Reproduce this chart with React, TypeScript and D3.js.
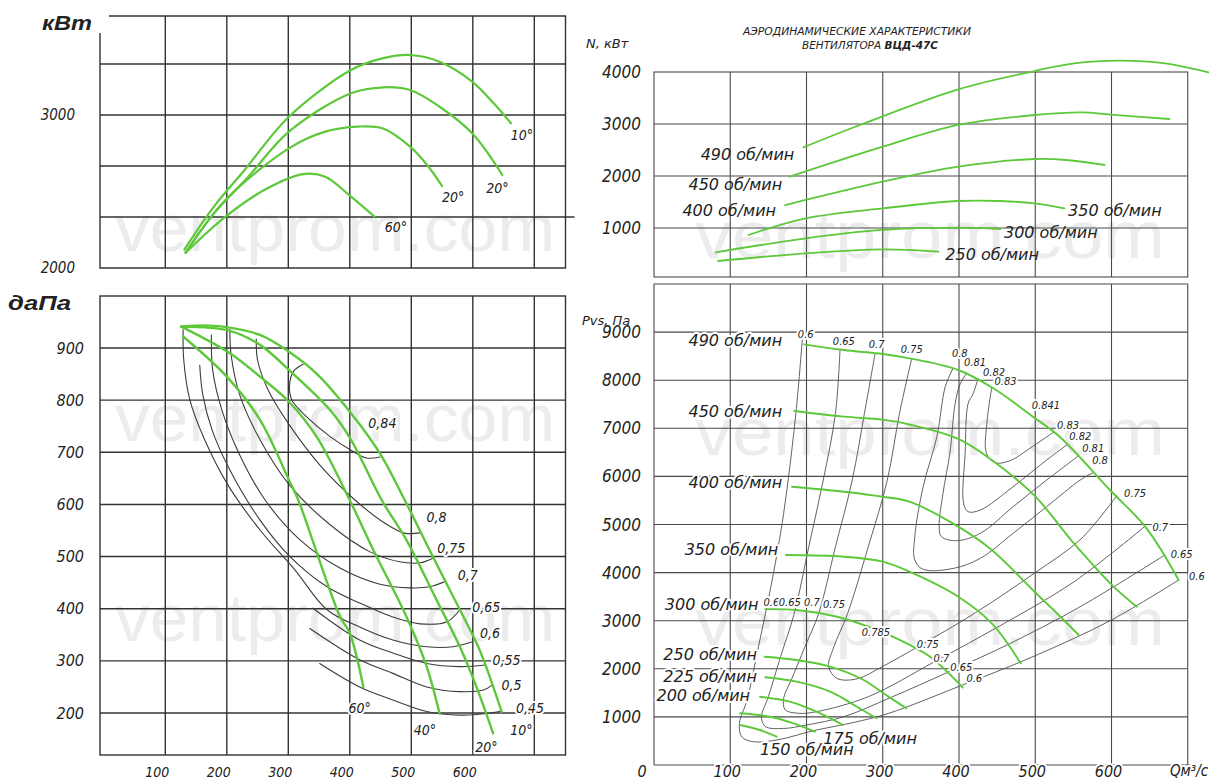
import React, { useEffect, useRef } from 'react';
import * as d3 from 'd3';

type Pt = [number, number];
type Label = [string, number, number];

const W = 1226;
const H = 783;

// ---------- left side: blade angle characteristics (Q, m³/s) ----------
const FLOW_GRID_LEFT = [100, 200, 300, 400, 500, 600, 700];
const FLOW_TICKS_LEFT = [100, 200, 300, 400, 500, 600];
const POWER_GRID_LEFT = [2333.3, 2666.7, 3000, 3333.3];
const POWER_TICKS_LEFT = [3000, 2000];
const PRESSURE_GRID_LEFT = [200, 300, 400, 500, 600, 700, 800, 900];

// power, kW, per blade angle
const powerAngle10: Pt[] = [[131, 2120], [179, 2401], [229, 2641], [301, 2989], [402, 3294], [453, 3370], [498, 3392], [546, 3348], [599, 3218], [634, 3076], [662, 2946]];
const powerAngle20a: Pt[] = [[133, 2100], [179, 2357], [235, 2597], [301, 2891], [402, 3142], [455, 3181], [498, 3163], [546, 3054], [599, 2880], [648, 2608]];
const powerAngle20b: Pt[] = [[133, 2100], [198, 2444], [301, 2782], [360, 2891], [413, 2924], [453, 2913], [498, 2793], [528, 2662], [550, 2536]];
const powerAngle60: Pt[] = [[133, 2100], [198, 2336], [266, 2521], [324, 2614], [360, 2597], [402, 2466], [440, 2336]];
const POWER_ANGLE_LABELS: Label[] = [['10°', 680, 2869], ['20°', 640, 2521], ['20°', 568, 2466], ['60°', 475, 2270]];

// pressure, daPa, per blade angle
const pressAngle10: Pt[] = [[126, 941], [172, 943], [210, 938], [254, 925], [301, 893], [346, 851], [402, 775], [449, 698], [489, 609], [535, 500], [579, 398], [611, 321], [647, 202]];
const pressAngle20: Pt[] = [[126, 941], [205, 933], [254, 906], [301, 858], [368, 781], [402, 724], [452, 608], [492, 532], [541, 417], [579, 327], [606, 250], [633, 161]];
const pressAngle40: Pt[] = [[126, 941], [205, 890], [254, 845], [301, 797], [346, 730], [400, 608], [438, 513], [492, 385], [525, 289], [546, 199]];
const pressAngle60: Pt[] = [[129, 922], [200, 845], [254, 762], [301, 647], [316, 609], [384, 385], [400, 353], [422, 250]];
const PRESS_ANGLE_LABELS: Label[] = [['60°', 416, 209], ['40°', 522, 167], ['20°', 622, 135], ['10°', 679, 167]];

// efficiency contours, left
const effL084: Pt[] = [[324, 869], [309, 856], [302, 829], [306, 800], [330, 768], [368, 730], [402, 704], [427, 689], [449, 691]];
const effL080: Pt[] = [[248, 917], [250, 877], [267, 820], [302, 752], [351, 676], [408, 609], [457, 564], [489, 545], [516, 546]];
const effL075: Pt[] = [[205, 936], [207, 887], [221, 810], [254, 724], [302, 637], [368, 561], [433, 509], [481, 490], [514, 488], [535, 497]];
const effL070: Pt[] = [[175, 925], [177, 858], [192, 781], [221, 695], [262, 609], [319, 532], [384, 478], [449, 447], [498, 440], [530, 442], [555, 452]];
const effL065: Pt[] = [[156, 867], [161, 810], [176, 743], [205, 666], [254, 570], [302, 501], [363, 442], [416, 411], [470, 384], [514, 371], [558, 375], [579, 398]];
const effL060: Pt[] = [[129, 935], [130, 877], [140, 800], [164, 724], [202, 637], [254, 551], [311, 474], [363, 398], [416, 365], [470, 340], [525, 327], [568, 327], [598, 336]];
const effL055: Pt[] = [[340, 401], [416, 340], [470, 315], [525, 295], [579, 289], [620, 292]];
const effL050: Pt[] = [[335, 362], [416, 302], [470, 276], [525, 250], [579, 241], [617, 244], [632, 254]];
const effL045: Pt[] = [[351, 295], [416, 250], [470, 225], [525, 203], [579, 196], [622, 199], [646, 204]];
const EFF_LABELS_LEFT: Label[] = [['0,84', 453, 756], ['0,8', 541, 576], ['0,75', 565, 516], ['0,7', 592, 465], ['0,65', 622, 404], ['0,6', 628, 353], ['0,55', 655, 302], ['0,5', 663, 254], ['0,45', 693, 209]];

// ---------- right side: speed characteristics ----------
const FLOW_GRID_RIGHT = [100, 200, 300, 400, 500, 600];
const FLOW_TICKS_RIGHT = [0, 100, 200, 300, 400, 500, 600];
const POWER_GRID_RIGHT = [1000, 2000, 3000];
const POWER_TICKS_RIGHT = [4000, 3000, 2000, 1000];
const PRESSURE_GRID_RIGHT = [1000, 2000, 3000, 4000, 5000, 6000, 7000, 8000, 9000];
const PRESSURE_TICKS_RIGHT = [9000, 8000, 7000, 6000, 5000, 4000, 3000, 2000, 1000];

// N, kW per rotor speed
const powerRpm490: Pt[] = [[196, 2552], [270, 2981], [399, 3667], [499, 4019], [551, 4167], [611, 4218], [670, 4167], [727, 3994]];
const powerRpm450: Pt[] = [[178, 1987], [300, 2564], [399, 2981], [499, 3173], [562, 3224], [599, 3180], [676, 3096]];
const powerRpm400: Pt[] = [[172, 1442], [300, 1891], [399, 2179], [499, 2327], [541, 2308], [591, 2212]];
const powerRpm350: Pt[] = [[124, 865], [199, 1186], [300, 1378], [399, 1519], [454, 1519], [499, 1474], [538, 1378]];
const powerRpm300: Pt[] = [[81, 532], [199, 801], [300, 962], [399, 1006], [454, 981]];
const powerRpm250: Pt[] = [[84, 365], [199, 513], [300, 590], [373, 545]];
const POWER_RPM_LABELS_END: Label[] = [['490 об/мин', 184, 2423], ['450 об/мин', 168, 1827], ['400 об/мин', 160, 1327]];
const POWER_RPM_LABELS_START: Label[] = [['350 об/мин', 543, 1327], ['300 об/мин', 459, 904], ['250 об/мин', 382, 481]];

// Pvs, Pa per rotor speed
const presRpm490: Pt[] = [[197, 8746], [249, 8628], [300, 8545], [335, 8455], [399, 8212], [445, 7832], [497, 7241], [532, 6825], [598, 5717], [646, 4921], [688, 3846]];
const presRpm450: Pt[] = [[184, 7360], [249, 7242], [300, 7180], [335, 7080], [399, 6780], [443, 6341], [499, 5600], [551, 4600], [600, 3750], [633, 3291]];
const presRpm400: Pt[] = [[181, 5786], [249, 5682], [300, 5578], [335, 5474], [399, 4955], [443, 4470], [499, 3603], [524, 3222], [557, 2703]];
const presRpm350: Pt[] = [[173, 4366], [249, 4331], [300, 4227], [335, 4019], [399, 3499], [443, 2946], [481, 2114]];
const presRpm300: Pt[] = [[146, 3240], [187, 3222], [240, 3083], [275, 2911], [318, 2634], [362, 2252], [405, 1610]];
const presRpm250: Pt[] = [[145, 2252], [187, 2183], [231, 2044], [275, 1767], [301, 1490], [331, 1178]];
const presRpm225: Pt[] = [[146, 1823], [187, 1732], [231, 1524], [266, 1212], [292, 971]];
const presRpm200: Pt[] = [[139, 1420], [178, 1316], [213, 1108], [248, 832]];
const presRpm175: Pt[] = [[113, 1075], [152, 1004], [183, 867], [211, 693]];
const presRpm150: Pt[] = [[113, 832], [139, 728], [161, 589]];
const PRESS_RPM_LABELS_END: Label[] = [['490 об/мин', 168, 8815], ['450 об/мин', 168, 7339], ['400 об/мин', 168, 5863], ['350 об/мин', 163, 4470], ['300 об/мин', 137, 3347], ['250 об/мин', 135, 2287], ['225 об/мин', 135, 1830], ['200 об/мин', 126, 1455]];
const PRESS_RPM_LABELS_START: Label[] = [['175 об/мин', 222, 561], ['150 об/мин', 139, 312]];

// efficiency contours, right
const effR060: Pt[] = [[195, 8950], [186, 7300], [170, 5230], [155, 3846], [137, 2459], [122, 1351], [112, 867], [115, 588], [130, 484], [161, 520], [213, 728], [257, 867], [308, 1075], [399, 1628], [497, 2252], [600, 3015], [688, 3846]];
const effR065: Pt[] = [[244, 8650], [238, 7312], [222, 5925], [203, 4538], [184, 3154], [166, 2252], [150, 1420], [141, 1000], [146, 800], [170, 760], [200, 832], [249, 1004], [310, 1400], [387, 1940], [470, 2550], [560, 3300], [670, 4366]];
const effR070: Pt[] = [[290, 8560], [276, 7312], [260, 5925], [238, 4538], [216, 3154], [198, 2459], [180, 1767], [170, 1386], [172, 1150], [190, 1075], [213, 1108], [281, 1420], [368, 2148], [460, 2950], [550, 3800], [643, 4950]];
const effR075: Pt[] = [[338, 8450], [322, 7312], [306, 5925], [281, 4538], [254, 3154], [236, 2459], [229, 2044], [240, 1800], [266, 1790], [300, 2050], [346, 2459], [420, 3150], [500, 4000], [560, 4700], [607, 5600]];
const effR080: Pt[] = [[392, 8240], [382, 7865], [371, 6826], [353, 5786], [342, 4747], [342, 4262], [353, 4068], [393, 4089], [428, 4297], [471, 4817], [515, 5370], [559, 5925], [576, 6080]];
const effR081: Pt[] = [[410, 8150], [401, 7900], [395, 7520], [388, 6480], [379, 5649], [374, 4955], [377, 4747], [397, 4663], [428, 4817], [471, 5370], [515, 5925], [556, 6420]];
const effR082: Pt[] = [[425, 8030], [418, 7700], [412, 7520], [408, 6480], [406, 5441], [412, 5266], [428, 5301], [471, 5786], [515, 6341], [542, 6660]];
const effR083: Pt[] = [[443, 7850], [437, 7173], [436, 6480], [447, 6285], [467, 6327], [493, 6584], [524, 6920]];
const EFF_LABELS_RIGHT: Label[] = [
  ['0.6', 199, 8940], ['0.65', 249, 8800], ['0.7', 292, 8732], ['0.75', 338, 8628], ['0.8', 401, 8545],
  ['0.81', 421, 8365], ['0.82', 446, 8170], ['0.83', 461, 7969], ['0.841', 514, 7484],
  ['0.83', 543, 7048], ['0.82', 559, 6825], ['0.81', 576, 6590], ['0.8', 585, 6330],
  ['0.75', 631, 5649], ['0.7', 664, 4942], ['0.65', 692, 4366], ['0.6', 712, 3915],
  ['0.6', 154, 3368], ['0.65', 178, 3368], ['0.7', 207, 3368], ['0.75', 236, 3340], ['0.785', 291, 2765],
  ['0.75', 359, 2495], ['0.7', 377, 2204], ['0.65', 403, 2020], ['0.6', 420, 1790],
];

const GREEN = '#5cc83a';
const FONT_C = "'DejaVu Sans Condensed', 'DejaVu Sans', sans-serif";
const FONT = "'DejaVu Sans', sans-serif";

export default function App() {
  const svgRef = useRef<SVGSVGElement>(null);

  useEffect(() => {
    const svg = d3.select(svgRef.current);
    svg.selectAll('*').remove();

    // scales
    const xL = d3.scaleLinear().domain([100, 700]).range([165.3, 534.3]);
    const yPowL = d3.scaleLinear().domain([2000, 3000]).range([268, 115]);
    const yPrsL = d3.scaleLinear().domain([200, 900]).range([713, 348]);
    const xR = d3.scaleLinear().domain([0, 700]).range([654, 1187.75]);
    const yPowR = d3.scaleLinear().domain([0, 4000]).range([280, 72]);
    const yPrsR = d3.scaleLinear().domain([0, 10000]).range([765, 284]);

    // frame edges (layout)
    const LX0 = 100, LX1 = 565.5;
    const TL_TOP = 16, TL_BOT = 268, BL_TOP = 296, BL_BOT = 755;
    const RX0 = xR(0), RX1 = xR(700);
    const TR_TOP = yPowR(4000), TR_BOT = 277, BR_TOP = yPrsR(10000), BR_BOT = yPrsR(0);

    svg.append('rect').attr('width', W).attr('height', H).attr('fill', '#fff');

    // watermarks
    const wm = svg.append('g').attr('fill', '#ececec')
      .attr('font-family', "'Liberation Sans', Arial, sans-serif").attr('font-size', 66);
    [[115, 251, 440], [115, 441, 440], [115, 641, 440], [695, 258, 470], [695, 455, 470], [695, 645, 470]]
      .forEach(([x, y, len]) => wm.append('text').attr('x', x).attr('y', y)
        .attr('textLength', len).attr('lengthAdjust', 'spacingAndGlyphs').text('ventprom.com'));

    const hLine = (g: any, x1: number, x2: number, y: number) =>
      g.append('line').attr('x1', x1).attr('x2', x2).attr('y1', y).attr('y2', y);
    const vLine = (g: any, x: number, y1: number, y2: number) =>
      g.append('line').attr('x1', x).attr('x2', x).attr('y1', y1).attr('y2', y2);

    // left grids
    const gl = svg.append('g').attr('stroke', '#333').attr('stroke-width', 1.4).attr('fill', 'none');
    gl.append('path').attr('d', `M${LX0},${TL_TOP + 17}V${TL_BOT}H${LX1}V${TL_TOP}H${LX0 + 9}`);
    FLOW_GRID_LEFT.forEach(q => vLine(gl, xL(q), TL_TOP, TL_BOT));
    POWER_GRID_LEFT.forEach((v, i) => hLine(gl, LX0, i === 0 ? LX1 + 9 : LX1, yPowL(v)));
    gl.append('rect').attr('x', LX0).attr('y', BL_TOP).attr('width', LX1 - LX0).attr('height', BL_BOT - BL_TOP);
    FLOW_GRID_LEFT.forEach(q => vLine(gl, xL(q), BL_TOP, BL_BOT));
    PRESSURE_GRID_LEFT.forEach(v => hLine(gl, LX0, LX1, yPrsL(v)));

    // right grids
    const gr = svg.append('g').attr('stroke', '#4a4a4a').attr('stroke-width', 1.1).attr('fill', 'none');
    gr.append('rect').attr('x', RX0).attr('y', TR_TOP).attr('width', RX1 - RX0).attr('height', TR_BOT - TR_TOP);
    FLOW_GRID_RIGHT.forEach(q => vLine(gr, xR(q), TR_TOP, TR_BOT));
    POWER_GRID_RIGHT.forEach(v => hLine(gr, RX0, RX1, yPowR(v)));
    gr.append('path').attr('d', `M${RX0},${BR_BOT}V${BR_TOP}H${RX1}V${BR_BOT}`);
    hLine(gr, RX0, RX1 + 2, BR_BOT);
    FLOW_GRID_RIGHT.forEach(q => vLine(gr, xR(q), BR_TOP, BR_BOT));
    PRESSURE_GRID_RIGHT.forEach(v => hLine(gr, RX0, RX1, yPrsR(v)));

    const curve = (g: any, pts: Pt[], xs: any, ys: any, color: string, w: number) => {
      const gen = d3.line<Pt>().x(d => xs(d[0])).y(d => ys(d[1])).curve(d3.curveCatmullRom.alpha(0.5));
      g.append('path').attr('d', gen(pts)).attr('fill', 'none').attr('stroke', color)
        .attr('stroke-width', w).attr('stroke-linejoin', 'round').attr('stroke-linecap', 'round');
    };

    // efficiency contours
    const ge = svg.append('g');
    [effL084, effL080, effL075, effL070, effL065, effL060, effL055, effL050, effL045]
      .forEach(c => curve(ge, c, xL, yPrsL, '#3c3c3c', 1.1));
    [effR060, effR065, effR070, effR075, effR080, effR081, effR082, effR083]
      .forEach(c => curve(ge, c, xR, yPrsR, '#505050', 0.9));

    // green characteristic curves
    const gg = svg.append('g');
    [powerAngle10, powerAngle20a, powerAngle20b, powerAngle60].forEach(c => curve(gg, c, xL, yPowL, GREEN, 2.2));
    [pressAngle10, pressAngle20, pressAngle40, pressAngle60].forEach(c => curve(gg, c, xL, yPrsL, GREEN, 2.4));
    [powerRpm490, powerRpm450, powerRpm400, powerRpm350, powerRpm300, powerRpm250].forEach(c => curve(gg, c, xR, yPowR, GREEN, 1.8));
    [presRpm490, presRpm450, presRpm400, presRpm350, presRpm300, presRpm250, presRpm225, presRpm200, presRpm175, presRpm150]
      .forEach(c => curve(gg, c, xR, yPrsR, GREEN, 1.9));

    // text
    const gt = svg.append('g').attr('fill', '#222').attr('font-style', 'italic');
    const text = (x: number, y: number, s: string, size: number, anchor = 'middle', halo = false, family = FONT_C) => {
      const t = gt.append('text').attr('x', x).attr('y', y).attr('font-size', size)
        .attr('text-anchor', anchor).attr('dominant-baseline', 'central').attr('font-family', family).text(s);
      if (halo) t.attr('stroke', '#fff').attr('stroke-width', 4).attr('stroke-linejoin', 'round').attr('paint-order', 'stroke');
      return t;
    };

    // left axes
    POWER_TICKS_LEFT.forEach(v => text(75, yPowL(v), String(v), 15, 'end'));
    PRESSURE_GRID_LEFT.forEach(v => text(84, yPrsL(v), String(v), 16, 'end'));
    FLOW_TICKS_LEFT.forEach(q => text(xL(q) - 8, 772, String(q), 14));
    POWER_ANGLE_LABELS.forEach(([s, q, v]) => text(xL(q), yPowL(v), s, 14));
    PRESS_ANGLE_LABELS.forEach(([s, q, v]) => text(xL(q), yPrsL(v), s, 14, 'middle', true));
    EFF_LABELS_LEFT.forEach(([s, q, v]) => text(xL(q), yPrsL(v), s, 14, 'middle', true));

    text(42, 22, 'кВт', 21, 'start', false, "'Liberation Sans', Arial, sans-serif")
      .attr('font-weight', 'bold').attr('textLength', 50).attr('lengthAdjust', 'spacingAndGlyphs');
    text(8, 302, 'даПа', 21, 'start', false, "'Liberation Sans', Arial, sans-serif")
      .attr('font-weight', 'bold').attr('textLength', 63).attr('lengthAdjust', 'spacingAndGlyphs');

    // right axes
    POWER_TICKS_RIGHT.forEach(v => text(641, yPowR(v), String(v), 17, 'end'));
    PRESSURE_TICKS_RIGHT.forEach(v => text(641, yPrsR(v), String(v), 17, 'end'));
    FLOW_TICKS_RIGHT.forEach(q => text(q === 0 ? xR(q) - 12 : xR(q) - 3, 771, String(q), 16, 'middle', true));
    text(1170, 771, 'Qм³/с', 15, 'start', true);
    text(586, 43, 'N, кВт', 13, 'start', false, FONT);
    text(582, 320, 'Pvs, Па', 13, 'start', false, FONT);

    POWER_RPM_LABELS_END.forEach(([s, q, v]) => text(xR(q), yPowR(v), s, 16, 'end', false, FONT));
    POWER_RPM_LABELS_START.forEach(([s, q, v]) => text(xR(q), yPowR(v), s, 16, 'start', false, FONT));
    PRESS_RPM_LABELS_END.forEach(([s, q, v]) => text(xR(q), yPrsR(v), s, 16, 'end', true, FONT));
    PRESS_RPM_LABELS_START.forEach(([s, q, v]) => text(xR(q), yPrsR(v), s, 16, 'start', true, FONT));
    EFF_LABELS_RIGHT.forEach(([s, q, v]) => text(xR(q), yPrsR(v), s, 11, 'middle', true));

    // title
    text(857, 31, 'АЭРОДИНАМИЧЕСКИЕ ХАРАКТЕРИСТИКИ', 10.5)
      .attr('textLength', 228).attr('lengthAdjust', 'spacingAndGlyphs');
    const t2 = text(870, 45, '', 10.5).attr('textLength', 136).attr('lengthAdjust', 'spacingAndGlyphs');
    t2.append('tspan').text('ВЕНТИЛЯТОРА ');
    t2.append('tspan').attr('font-weight', 'bold').text('ВЦД-47С');
  }, []);

  return (
    <svg
      ref={svgRef}
      width={W}
      height={H}
      style={{ position: 'absolute', left: 0, top: 0, display: 'block' }}
    />
  );
}
